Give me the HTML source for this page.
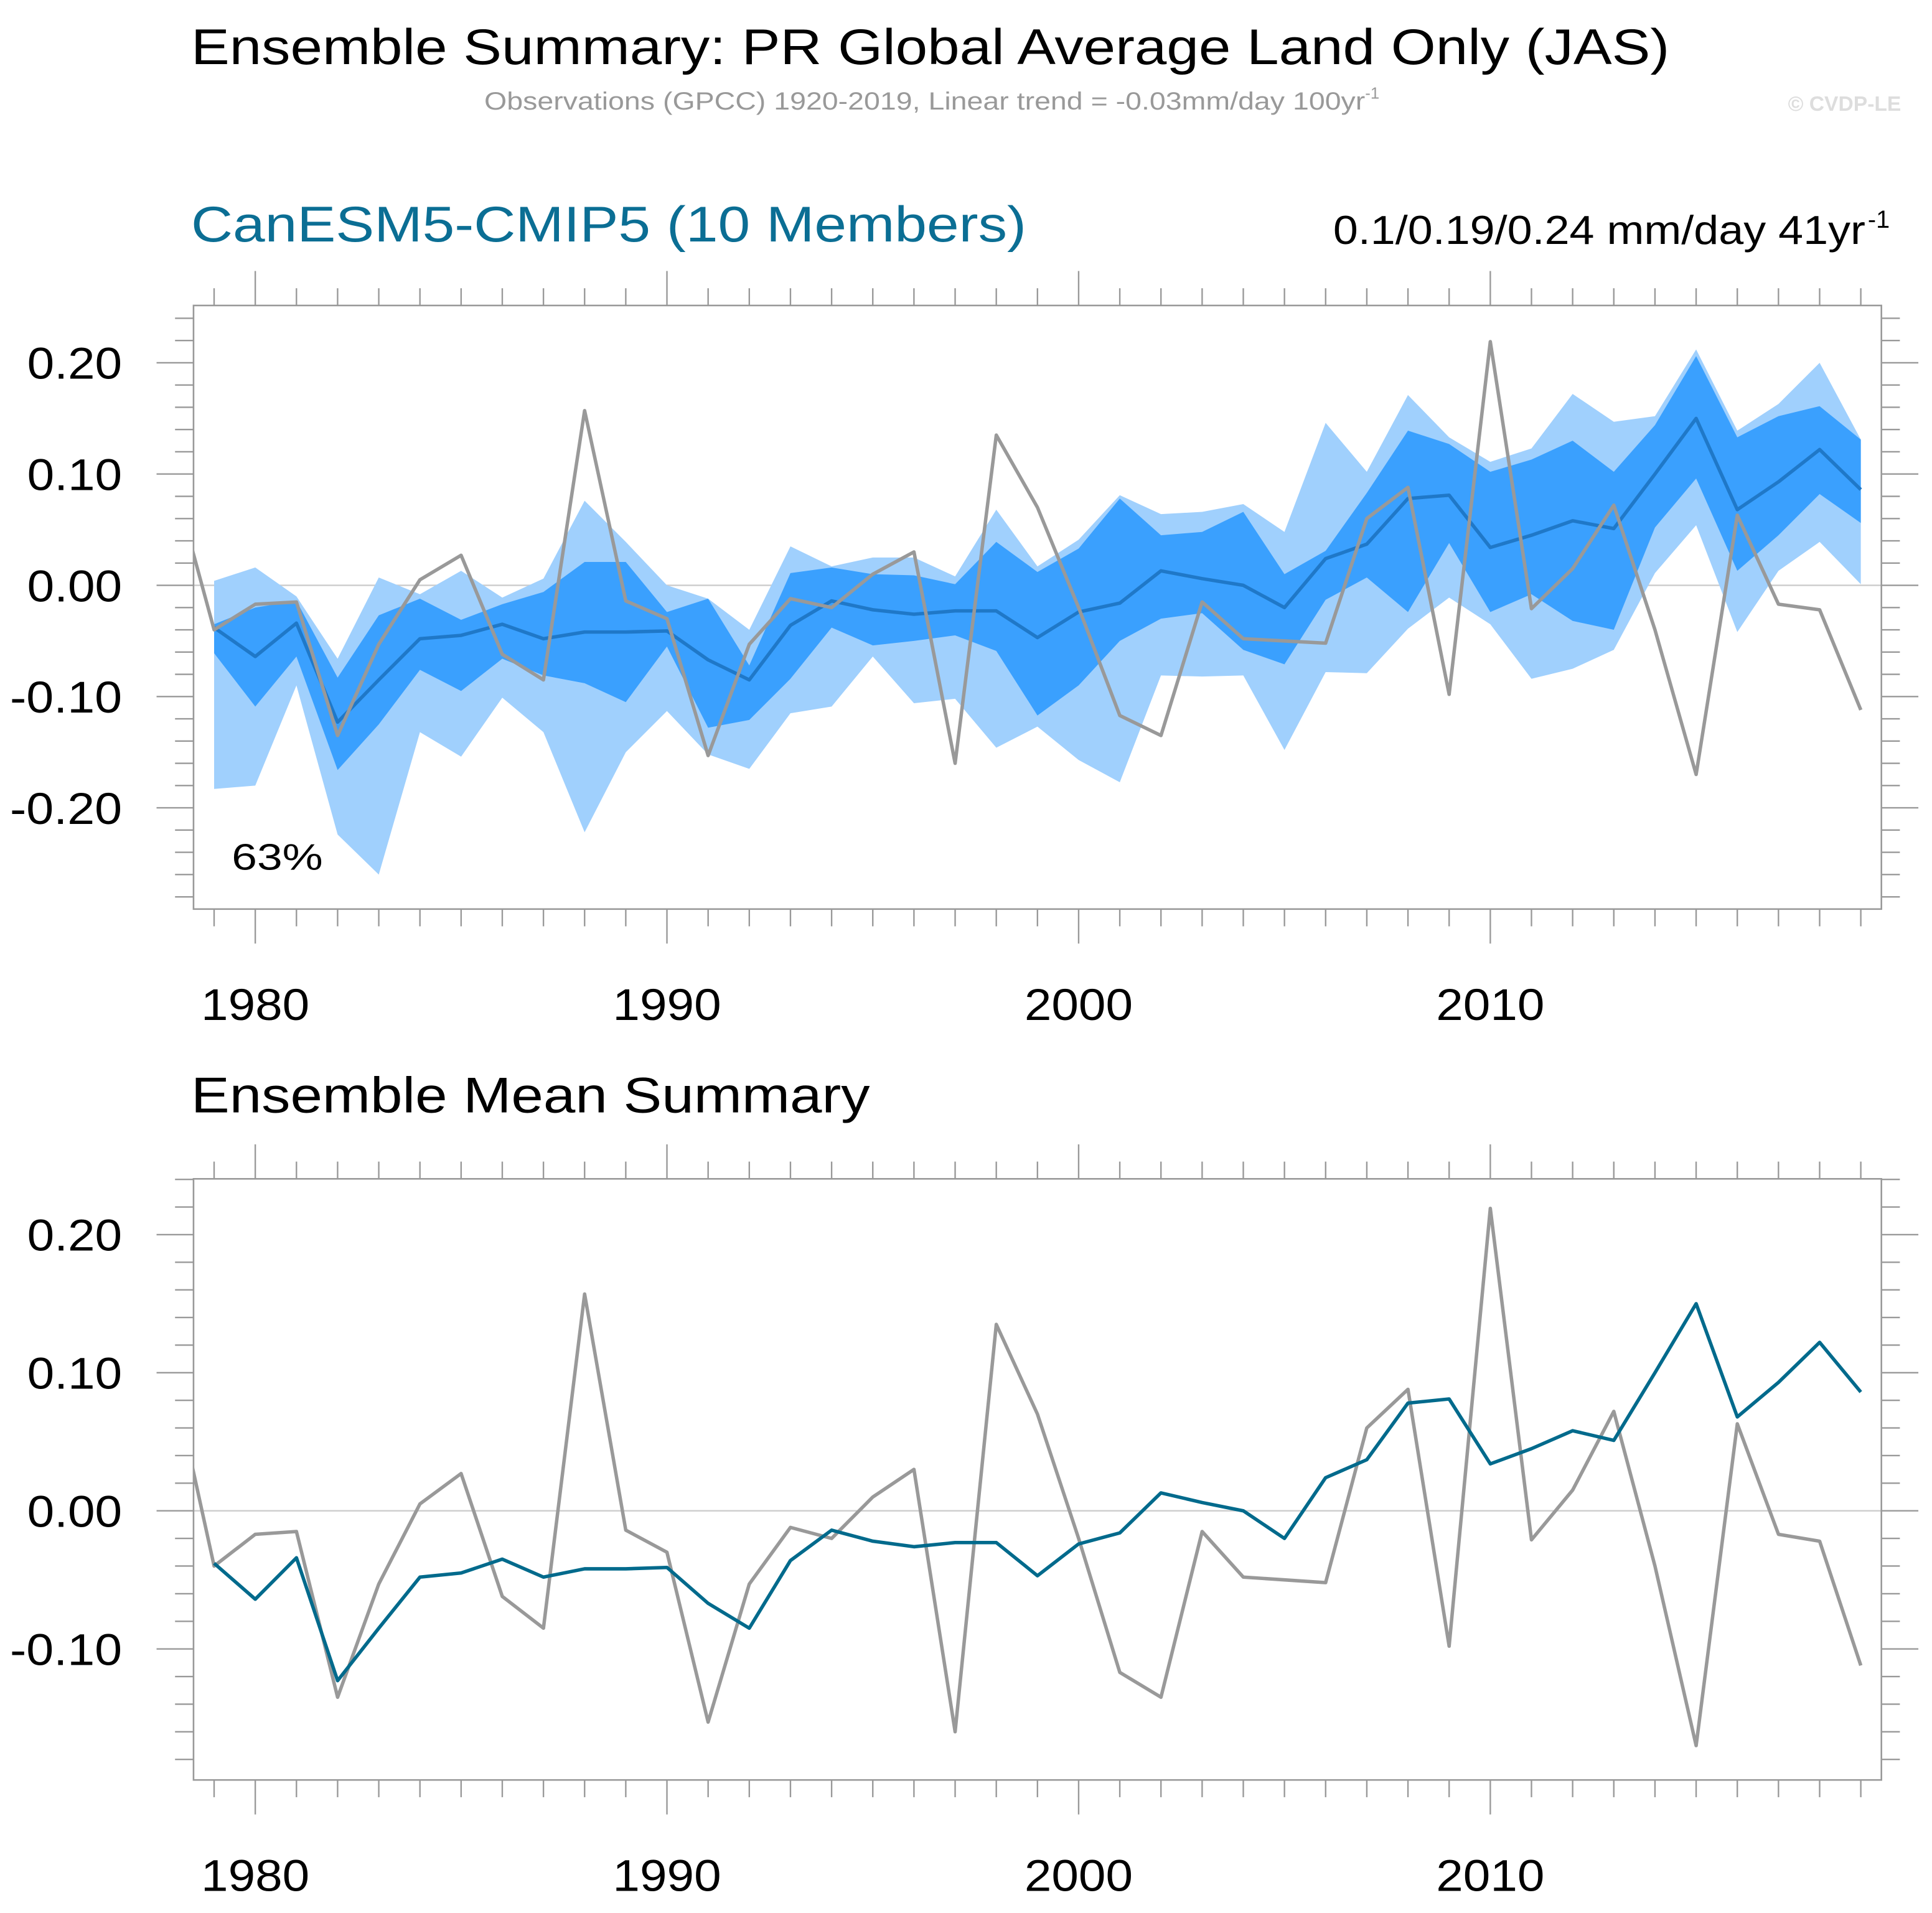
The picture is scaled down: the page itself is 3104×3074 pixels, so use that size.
<!DOCTYPE html>
<html><head><meta charset="utf-8"><style>
html,body{margin:0;padding:0;background:#fff;}
svg{display:block;font-family:"Liberation Sans",sans-serif;}
</style></head><body>
<svg id="c" width="3104" height="3074" viewBox="0 0 1568 1553" xmlns="http://www.w3.org/2000/svg">
<rect width="1568" height="1553" fill="#fff"/>
<text x="155" y="52" font-size="41" textLength="1200" lengthAdjust="spacingAndGlyphs">Ensemble Summary: PR Global Average Land Only (JAS)</text>
<text x="393" y="89" font-size="20" fill="#999" textLength="715" lengthAdjust="spacingAndGlyphs">Observations (GPCC) 1920-2019, Linear trend = -0.03mm/day 100yr</text>
<text x="1108" y="80" font-size="13" fill="#999">-1</text>
<text x="1543" y="90" font-size="17" fill="#ddd" font-weight="bold" text-anchor="end">© CVDP-LE</text>
<text x="155" y="196" font-size="41" fill="#0b6e94" textLength="678" lengthAdjust="spacingAndGlyphs">CanESM5-CMIP5 (10 Members)</text>
<text x="1082" y="198" font-size="33" textLength="432" lengthAdjust="spacingAndGlyphs">0.1/0.19/0.24 mm/day 41yr</text>
<text x="1516" y="185" font-size="20">-1</text>
<text x="155" y="903" font-size="41" textLength="551" lengthAdjust="spacingAndGlyphs">Ensemble Mean Summary</text>
<text x="188" y="706" font-size="30" textLength="74" lengthAdjust="spacingAndGlyphs">63%</text>
<g id="p1"></g>
<g id="p2"></g>
</svg>
<script>
const years=[1979,1980,1981,1982,1983,1984,1985,1986,1987,1988,1989,1990,1991,1992,1993,1994,1995,1996,1997,1998,1999,2000,2001,2002,2003,2004,2005,2006,2007,2008,2009,2010,2011,2012,2013,2014,2015,2016,2017,2018,2019];
const obsYears=[1978].concat(years);
const obsValues=[0.096,-0.04,-0.017,-0.015,-0.135,-0.053,0.005,0.027,-0.062,-0.085,0.157,-0.014,-0.03,-0.153,-0.053,-0.012,-0.02,0.01,0.03,-0.16,0.135,0.07,-0.02,-0.117,-0.135,-0.015,-0.048,-0.05,-0.052,0.06,0.088,-0.098,0.219,-0.021,0.015,0.072,-0.04,-0.17,0.063,-0.017,-0.022,-0.112];
const meanValues=[-0.038,-0.064,-0.034,-0.123,-0.085,-0.048,-0.045,-0.035,-0.048,-0.042,-0.042,-0.041,-0.067,-0.085,-0.036,-0.014,-0.022,-0.026,-0.023,-0.023,-0.047,-0.024,-0.016,0.013,0.006,0,-0.02,0.024,0.037,0.078,0.081,0.034,0.045,0.058,0.051,0.1,0.15,0.068,0.093,0.122,0.086];
const outerUpper=[0.004,0.016,-0.01,-0.066,0.007,-0.008,0.013,-0.011,0.006,0.076,0.039,0,-0.012,-0.04,0.035,0.017,0.025,0.025,0.008,0.068,0.017,0.041,0.081,0.064,0.066,0.073,0.048,0.146,0.102,0.171,0.133,0.111,0.123,0.172,0.147,0.152,0.212,0.139,0.163,0.2,0.131];
const outerLower=[-0.183,-0.18,-0.09,-0.224,-0.26,-0.132,-0.154,-0.101,-0.132,-0.222,-0.15,-0.113,-0.152,-0.165,-0.115,-0.109,-0.064,-0.106,-0.102,-0.146,-0.127,-0.157,-0.177,-0.081,-0.082,-0.081,-0.148,-0.078,-0.079,-0.039,-0.011,-0.035,-0.084,-0.075,-0.058,0.011,0.054,-0.042,0.013,0.039,0.001];
const innerUpper=[-0.035,-0.02,-0.014,-0.083,-0.027,-0.012,-0.031,-0.017,-0.006,0.021,0.021,-0.024,-0.012,-0.072,0.011,0.016,0.01,0.009,0.001,0.039,0.012,0.033,0.078,0.045,0.048,0.066,0.01,0.031,0.083,0.139,0.127,0.102,0.113,0.13,0.102,0.144,0.206,0.133,0.152,0.161,0.131];
const innerLower=[-0.061,-0.109,-0.064,-0.166,-0.125,-0.076,-0.095,-0.066,-0.081,-0.088,-0.105,-0.055,-0.128,-0.121,-0.084,-0.038,-0.054,-0.05,-0.045,-0.059,-0.117,-0.09,-0.05,-0.03,-0.025,-0.058,-0.071,-0.013,0.007,-0.024,0.038,-0.024,-0.008,-0.032,-0.04,0.052,0.096,0.013,0.045,0.082,0.056];
const xTickYears=[1980,1990,2000,2010];
const topYTicks=[0.2,0.1,0,-0.1,-0.2];
const botYTicks=[0.2,0.1,0,-0.1];
const NS="http://www.w3.org/2000/svg";
function el(p,t,a){const e=document.createElementNS(NS,t);for(const k in a)e.setAttribute(k,a[k]);p.appendChild(e);return e;}
const X0=157,X1=1527,YR0=1978.5,YR1=2019.5;
const xs=y=>X0+(y-YR0)/(YR1-YR0)*(X1-X0);
function panel(g,id,top,bot,vTop,vBot,ticks,bands){
  const ys=v=>top+(vTop-v)/(vTop-vBot)*(bot-top);
  const cp=el(g,'clipPath',{id:'cl'+id});el(cp,'rect',{x:X0,y:top,width:X1-X0,height:bot-top});
  const pg=el(g,'g',{'clip-path':'url(#cl'+id+')'});
  el(pg,'line',{x1:X0,x2:X1,y1:ys(0),y2:ys(0),stroke:'#ccc','stroke-width':1.2});
  function band(u,l,col,name){let d='';years.forEach((y,i)=>{d+=(i?'L':'M')+xs(y)+','+ys(u[i]);});for(let i=years.length-1;i>=0;i--)d+='L'+xs(years[i])+','+ys(l[i]);
    const p=el(pg,'path',{d:d+'Z',fill:col});
    
    }
  if(bands){band(outerUpper,outerLower,'#a0d0fd','outer-spread-band');band(innerUpper,innerLower,'#3aa0fe','inner-spread-band');}
  function line(xv,yv,col,name){const p=el(pg,'polyline',{points:xv.map((y,i)=>xs(y)+','+ys(yv[i])).join(' '),fill:'none',stroke:col,'stroke-width':2.8,'stroke-linejoin':'round'});
    
    }
  if(bands){line(years,meanValues,'#1f78c8','ensemble-mean-line');line(obsYears,obsValues,'#999','observations-line');}
  else{line(obsYears,obsValues,'#999','observations-line');line(years,meanValues,'#006a8c','ensemble-mean-line');}
  el(g,'rect',{x:X0,y:top,width:X1-X0,height:bot-top,fill:'none',stroke:'#999','stroke-width':1.3});
  for(let y=1979;y<=2019;y++){const maj=y%10==0,L=maj?28:14;
    el(g,'line',{x1:xs(y),x2:xs(y),y1:top,y2:top-L,stroke:'#999','stroke-width':1.2});
    el(g,'line',{x1:xs(y),x2:xs(y),y1:bot,y2:bot+L,stroke:'#999','stroke-width':1.2});}
  xTickYears.forEach(y=>{const t=el(g,'text',{x:xs(y)-44,y:bot+90,'font-size':36,textLength:88,lengthAdjust:'spacingAndGlyphs'});t.textContent=y;
    
    });
  for(let k=Math.ceil(vBot/0.02);k<=Math.floor(vTop/0.02);k++){const v=k*0.02,maj=k%5==0,L=maj?30:15;
    el(g,'line',{x1:X0,x2:X0-L,y1:ys(v),y2:ys(v),stroke:'#999','stroke-width':1.2});
    el(g,'line',{x1:X1,x2:X1+L,y1:ys(v),y2:ys(v),stroke:'#999','stroke-width':1.2});}
  ticks.forEach(v=>{const s=v.toFixed(2),w=s.length==4?77:91;const t=el(g,'text',{x:99-w,y:ys(v)+13,'font-size':36,textLength:w,lengthAdjust:'spacingAndGlyphs'});t.textContent=s;
    
    });
}
panel(document.getElementById('p1'),1,248,738,0.2515,-0.291,topYTicks,true);
panel(document.getElementById('p2'),2,957,1445,0.2404,-0.1949,botYTicks,false);
</script>
</body></html>
